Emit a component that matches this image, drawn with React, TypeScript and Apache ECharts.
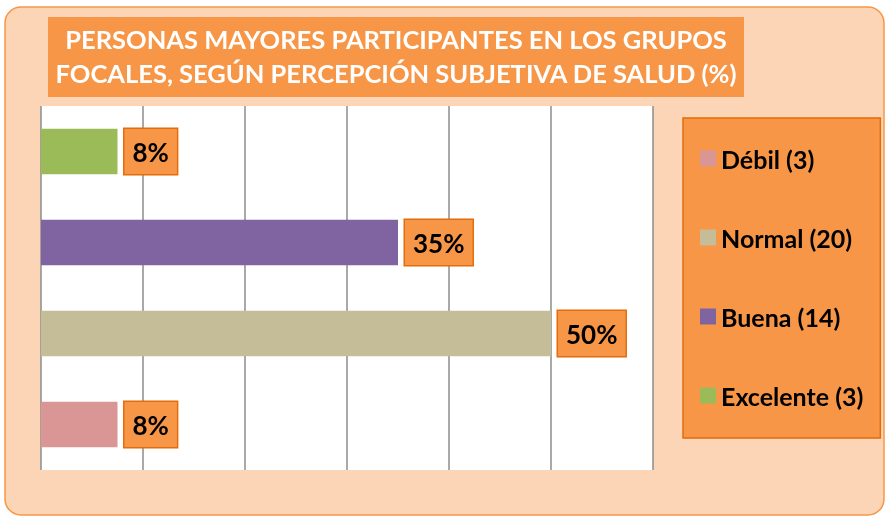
import React, { useEffect, useRef } from "react";
import * as echarts from "echarts";

const categories = ["Débil (3)", "Normal (20)", "Buena (14)", "Excelente (3)"];
const values = [7.5, 50, 35, 7.5];
const colors = ["#D99694", "#C4BD97", "#8064A2", "#9BBB59"];
const titleLines = [
  "PERSONAS MAYORES PARTICIPANTES EN LOS GRUPOS",
  "FOCALES, SEGÚN PERCEPCIÓN SUBJETIVA DE SALUD (%)",
];
const FONT = "Lato";

export default function App() {
  const ref = useRef<HTMLDivElement>(null);
  useEffect(() => {
    if (!ref.current) return;
    const chart = echarts.init(ref.current, null, { renderer: "svg" });
    const series = categories.map((name, i) => ({
      name,
      type: "bar",
      stack: "all",
      barCategoryGap: "50%",
      itemStyle: { color: colors[i] },
      data: categories.map((_, j) => (j === i ? values[i] : "-")),
      label: {
        show: true,
        position: "right",
        distance: 7,
        formatter: (p: any) => Math.round(p.value) + "%",
        color: "#000",
        fontFamily: FONT,
        fontWeight: "bold",
        fontSize: 26,
        lineHeight: 27,
        backgroundColor: "#F79646",
        borderColor: "#E46C0A",
        borderWidth: 1.5,
        padding: [9, 8, 9, 8],
      },
    }));
    chart.setOption({
      animation: false,
      backgroundColor: "transparent",
      graphic: [
        {
          type: "rect",
          z: -10,
          shape: { x: 5, y: 7, width: 879, height: 508, r: 16 },
          style: { fill: "#FBD5B5", stroke: "#F79646", lineWidth: 1.5 },
        },
        {
          type: "rect",
          z: -5,
          shape: { x: 48, y: 17, width: 696, height: 80 },
          style: { fill: "#F79646" },
        },
        {
          type: "text",
          z: 5,
          x: 396,
          y: 56,
          style: {
            text: titleLines.join("\n"),
            fill: "#fff",
            font: `bold 25.5px ${FONT}`,
            lineHeight: 34,
            align: "center",
            verticalAlign: "middle",
          },
        },
      ],
      grid: {
        left: 41,
        right: 233,
        top: 106,
        bottom: 47,
        show: true,
        backgroundColor: "#fff",
        borderWidth: 0,
      },
      legend: {
        orient: "vertical",
        left: 683,
        top: 118,
        data: categories,
        icon: "rect",
        itemWidth: 16,
        itemHeight: 16,
        itemGap: 54,
        padding: [28, 17, 30, 17],
        backgroundColor: "#F79646",
        borderColor: "#E46C0A",
        borderWidth: 1.5,
        textStyle: {
          color: "#000",
          fontFamily: FONT,
          fontWeight: "bold",
          fontSize: 25,
        },
      },
      xAxis: {
        type: "value",
        min: 0,
        max: 60,
        interval: 10,
        axisLabel: { show: false },
        axisLine: { show: false },
        axisTick: { show: false },
        splitLine: { show: true, lineStyle: { color: "#8C8C8C", width: 1.5 } },
      },
      yAxis: {
        type: "category",
        data: categories,
        axisLabel: { show: false },
        axisLine: { show: false },
        axisTick: { show: false },
      },
      series,
    });
    return () => chart.dispose();
  }, []);
  return (
    <div
      ref={ref}
      style={{ position: "fixed", left: 0, top: 0, width: 886, height: 517 }}
    />
  );
}
